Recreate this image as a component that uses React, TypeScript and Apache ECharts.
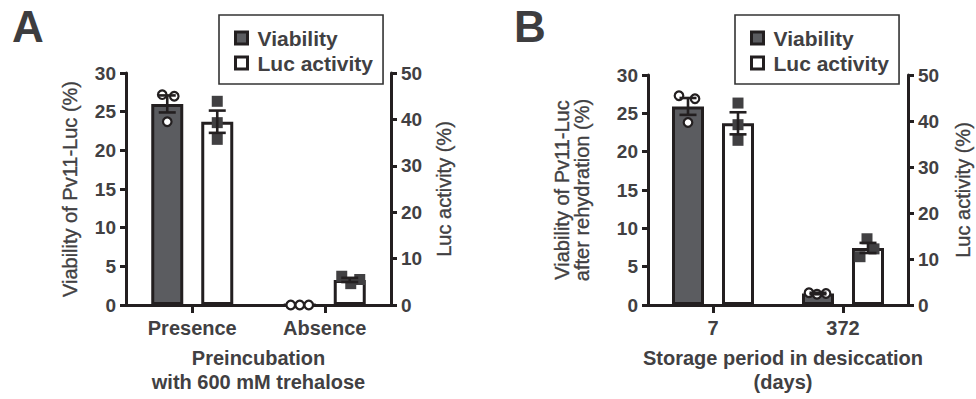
import React, { useEffect, useRef } from "react";
import * as echarts from "echarts";

// ---------------- data ----------------
const categoriesA = ["Presence", "Absence"];
const categoriesB = ["7", "372"];

// bar means and SEM
const viabilityMeanA = [26.0, 0];
const viabilitySemA = [1.1, 0];
const lucMeanA = [39.5, 5.4];
const lucSemA = [2.4, 0.45];

const viabilityMeanB = [25.9, 1.5];
const viabilitySemB = [1.1, 0.1];
const lucMeanB = [39.5, 12.4];
const lucSemB = [2.4, 1.1];

// individual replicates
const viabilityPointsA = [
  [27.2, 27.0, 23.7],
  [0, 0, 0],
];
const lucPointsA = [
  [43.9, 39.3, 35.7],
  [6.2, 4.6, 5.5],
];
const viabilityPointsB = [
  [27.3, 26.9, 23.8],
  [1.6, 1.4, 1.5],
];
const lucPointsB = [
  [43.9, 39.2, 35.8],
  [10.5, 12.2, 14.4],
];

const leftAxisMax = 30;
const leftAxisInterval = 5;
const rightAxisMax = 50;
const rightAxisInterval = 10;

// ---------------- layout / style ----------------
const FONT = "'Liberation Sans', Arial, Helvetica, sans-serif";
const TEXT = "#414042";
const INK = "#231f20";
const GRAY = "#5b5c60";
const MARK = "#414042";
const BAR_W = 32;
const BAR_BORDER = 3;
const BAR_GAP_PX = 18;
const BAR_OFFSET = (BAR_W + BAR_GAP_PX) / 2;

// horizontal scatter (px) of replicate dots, per panel / series / category / replicate
const JIT_VIA_A = [[-5, 7, 0], [-9, 0, 9]];
const JIT_LUC_A = [[0, 0, 0], [-8, 1, 10]];
const JIT_VIA_B = [[-9, 7, 0], [-9, -1, 8]];
const JIT_LUC_B = [[0, 0, 0], [-8, 6, -1]];

function toPointData(points: number[][]) {
  const out: number[][] = [];
  points.forEach((arr, ci) => arr.forEach((v, ri) => out.push([ci, v, ri])));
  return out;
}

function pointsSeries(
  points: number[][],
  jitter: number[][],
  side: number,
  gridIndex: number,
  yAxisIndex: number,
  shape: "circle" | "square"
) {
  return {
    type: "custom",
    name: shape === "circle" ? "Viability replicates" : "Luc replicates",
    xAxisIndex: gridIndex,
    yAxisIndex,
    z: 5,
    clip: false,
    silent: true,
    data: toPointData(points),
    renderItem: (params: any, api: any) => {
      const ci = api.value(0);
      const ri = api.value(2);
      const c = api.coord([ci, api.value(1)]);
      const x = c[0] + side * BAR_OFFSET + jitter[ci][ri];
      const y = c[1];
      if (shape === "circle") {
        return {
          type: "circle",
          shape: { cx: x, cy: y, r: 4.3 },
          style: { fill: "#ffffff", stroke: INK, lineWidth: 2.2 },
        };
      }
      return {
        type: "rect",
        shape: { x: x - 5.5, y: y - 5.5, width: 11, height: 11 },
        style: { fill: MARK },
      };
    },
  };
}

function errorSeries(
  means: number[],
  sems: number[],
  side: number,
  gridIndex: number,
  yAxisIndex: number
) {
  return {
    type: "custom",
    name: "SEM",
    xAxisIndex: gridIndex,
    yAxisIndex,
    z: 6,
    clip: false,
    silent: true,
    data: means.map((m, i) => [i, m, sems[i]]),
    renderItem: (params: any, api: any) => {
      const ci = api.value(0);
      const m = api.value(1);
      const s = api.value(2);
      if (!s) return null;
      const t = api.coord([ci, m + s]);
      const b = api.coord([ci, m - s]);
      const x = t[0] + side * BAR_OFFSET;
      const hw = 8.5;
      const st = { stroke: INK, lineWidth: 2.6 };
      return {
        type: "group",
        children: [
          { type: "line", shape: { x1: x, y1: t[1], x2: x, y2: b[1] }, style: st },
          { type: "line", shape: { x1: x - hw, y1: t[1], x2: x + hw, y2: t[1] }, style: st },
          { type: "line", shape: { x1: x - hw, y1: b[1], x2: x + hw, y2: b[1] }, style: st },
        ],
      };
    },
  };
}

function barSeries(name: string, data: number[], color: string, gridIndex: number, yAxisIndex: number) {
  return {
    type: "bar",
    name,
    xAxisIndex: gridIndex,
    yAxisIndex,
    data,
    barWidth: BAR_W,
    barGap: (BAR_GAP_PX / BAR_W) * 100 + "%",
    z: 2,
    itemStyle: { color, borderColor: INK, borderWidth: BAR_BORDER },
  };
}

const axisLine = { show: true, onZero: false, lineStyle: { color: INK, width: 3 } };

function catAxis(gridIndex: number, data: string[], name: string, nameGap: number, namePad: number[]) {
  return {
    type: "category",
    gridIndex,
    data,
    name,
    nameLocation: "middle",
    nameGap,
    nameTextStyle: {
      fontFamily: FONT,
      fontSize: 20,
      fontWeight: "bold",
      color: TEXT,
      lineHeight: 24,
      padding: namePad,
    },
    axisLine,
    axisTick: { show: true, alignWithLabel: true, length: 8, lineStyle: { color: INK, width: 3 } },
    axisLabel: { fontFamily: FONT, fontSize: 20, fontWeight: "bold", color: TEXT, margin: 13 },
    splitLine: { show: false },
  };
}

function valAxis(
  gridIndex: number,
  position: "left" | "right",
  max: number,
  interval: number,
  name: string,
  nameGap: number,
  lineHeight: number
) {
  return {
    type: "value",
    gridIndex,
    position,
    min: 0,
    max,
    interval,
    name,
    nameLocation: "middle",
    nameGap,
    nameTextStyle: {
      fontFamily: FONT,
      fontSize: 20,
      color: TEXT,
      lineHeight,
      textBorderColor: TEXT,
      textBorderWidth: 0.35,
    },
    axisLine,
    axisTick: { show: true, length: 6, lineStyle: { color: INK, width: 3 } },
    axisLabel: { fontFamily: FONT, fontSize: 19, fontWeight: "bold", color: TEXT, margin: 10 },
    splitLine: { show: false },
  };
}

function legend(left: number) {
  return {
    orient: "vertical",
    left,
    top: 15,
    padding: [12, 10, 10, 15],
    itemGap: 3,
    itemWidth: 12,
    itemHeight: 12,
    borderColor: "#333333",
    borderWidth: 1.6,
    backgroundColor: "#ffffff",
    selectedMode: false,
    textStyle: {
      fontFamily: FONT,
      fontSize: 21,
      fontWeight: "bold",
      color: TEXT,
      lineHeight: 22,
      padding: [0, 0, 0, 5],
    },
    data: [
      { name: "Viability", icon: "rect", itemStyle: { color: GRAY, borderColor: INK, borderWidth: 3 } },
      { name: "Luc activity", icon: "rect", itemStyle: { color: "#ffffff", borderColor: INK, borderWidth: 3 } },
    ],
  };
}

export default function App() {
  const ref = useRef<HTMLDivElement>(null);
  useEffect(() => {
    if (!ref.current) return;
    const chart = echarts.init(ref.current, undefined, { renderer: "svg" });
    const option: any = {
      animation: false,
      backgroundColor: "#ffffff",
      textStyle: { fontFamily: FONT },
      grid: [
        { left: 126, top: 73, width: 265, height: 234 },
        { left: 648, top: 75, width: 260, height: 234 },
      ],
      xAxis: [
        catAxis(0, categoriesA, "Preincubation\nwith 600 mM trehalose", 41, [0, 0, 0, 0]),
        catAxis(1, categoriesB, "Storage period in desiccation\n(days)", 41, [0, 0, 0, 10]),
      ],
      yAxis: [
        valAxis(0, "left", leftAxisMax, leftAxisInterval, "Viability of Pv11-Luc (%)", 45, 22),
        valAxis(0, "right", rightAxisMax, rightAxisInterval, "Luc activity (%)", 42, 22),
        valAxis(1, "left", leftAxisMax, leftAxisInterval, "Viability of Pv11-Luc\nafter rehydration (%)", 56, 20),
        valAxis(1, "right", rightAxisMax, rightAxisInterval, "Luc activity (%)", 44, 22),
      ],
      legend: [legend(219), legend(735)],
      graphic: [
        {
          type: "text",
          left: 12,
          top: 4,
          style: { text: "A", fontFamily: FONT, fontSize: 44, fontWeight: "bold", fill: "#3d3d3f" },
        },
        {
          type: "text",
          left: 514,
          top: 4,
          style: { text: "B", fontFamily: FONT, fontSize: 44, fontWeight: "bold", fill: "#3d3d3f" },
        },
      ],
      series: [
        barSeries("Viability", viabilityMeanA, GRAY, 0, 0),
        barSeries("Luc activity", lucMeanA, "#ffffff", 0, 1),
        pointsSeries(viabilityPointsA, JIT_VIA_A, -1, 0, 0, "circle"),
        pointsSeries(lucPointsA, JIT_LUC_A, 1, 0, 1, "square"),
        errorSeries(viabilityMeanA, viabilitySemA, -1, 0, 0),
        errorSeries(lucMeanA, lucSemA, 1, 0, 1),

        barSeries("Viability", viabilityMeanB, GRAY, 1, 2),
        barSeries("Luc activity", lucMeanB, "#ffffff", 1, 3),
        pointsSeries(viabilityPointsB, JIT_VIA_B, -1, 1, 2, "circle"),
        pointsSeries(lucPointsB, JIT_LUC_B, 1, 1, 3, "square"),
        errorSeries(viabilityMeanB, viabilitySemB, -1, 1, 2),
        errorSeries(lucMeanB, lucSemB, 1, 1, 3),
      ],
    };
    chart.setOption(option);
    return () => chart.dispose();
  }, []);
  return (
    <div
      ref={ref}
      style={{ position: "fixed", left: 0, top: 0, width: 976, height: 399, background: "#ffffff" }}
    />
  );
}
